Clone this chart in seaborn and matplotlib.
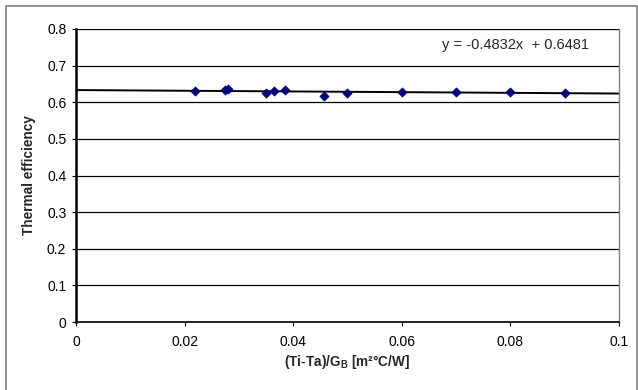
import numpy as np
import pandas as pd
import matplotlib
matplotlib.use("Agg")
import matplotlib.pyplot as plt
import seaborn as sns
from matplotlib.patches import Rectangle

# --- datos ---
x_vals = [0.022, 0.0275, 0.028, 0.035, 0.0365, 0.0385, 0.0457, 0.050, 0.060, 0.070, 0.080, 0.090]
eta_vals = [0.632, 0.633, 0.637, 0.624, 0.630, 0.634, 0.618, 0.626, 0.629, 0.628, 0.627, 0.626]
y_ticks = [0, 0.1, 0.2, 0.3, 0.4, 0.5, 0.6, 0.7, 0.8]
x_ticks = [0, 0.02, 0.04, 0.06, 0.08, 0.1]
x_tick_labels = ["0", "0.02", "0.04", "0.06", "0.08", "0.1"]
ecuacion = "y = -0.4832x  + 0.6481"

df = pd.DataFrame({"x": x_vals, "eta": eta_vals})

sns.set_style("white")
plt.rcParams["font.family"] = ["Liberation Sans", "DejaVu Sans"]
plt.rcParams["mathtext.fontset"] = "custom"
plt.rcParams["mathtext.bf"] = "Liberation Sans:bold"
plt.rcParams["mathtext.rm"] = "Liberation Sans:bold"

fig = plt.figure(figsize=(6.38, 3.9), dpi=100)
ax = fig.add_axes([76 / 638, 1 - 322 / 390, (619 - 76) / 638, (322 - 29) / 390])

# borde exterior del grafico (estilo Excel)
fig.patches.append(Rectangle((6 / 638, -0.02), 631 / 638, 1 - 6 / 390 + 0.02,
                             transform=fig.transFigure, fill=False,
                             edgecolor="#808080", linewidth=1.2, zorder=0))

ax.set_xlim(0, 0.1)
ax.set_ylim(0, 0.8)

# lineas de rejilla horizontales
for yt in y_ticks[1:]:
    ax.axhline(yt, color="black", linewidth=0.9, zorder=1)

# linea de tendencia
sns.regplot(data=df, x="x", y="eta", ax=ax, ci=None, truncate=False, scatter=False,
            line_kws={"color": "black", "linewidth": 1.4, "zorder": 2})
sns.scatterplot(data=df, x="x", y="eta", ax=ax, marker="D", color="#000080",
                s=22, edgecolor="#000080", linewidth=0.5, zorder=3)

ax.set_xlim(0, 0.1)
ax.set_ylim(0, 0.8)
ax.set_xticks(x_ticks)
ax.set_xticklabels(x_tick_labels)
ax.set_yticks(y_ticks)
ax.set_yticklabels(["0"] + [f"{v:.1f}" for v in y_ticks[1:]])
ax.tick_params(axis="both", labelsize=10, direction="out", length=3, width=0.8,
               colors="black", pad=4)
ax.tick_params(axis="x", bottom=True, pad=6)
ax.tick_params(axis="y", left=True)

ax.spines["top"].set_visible(False)
ax.spines["right"].set_color("#808080")
ax.spines["right"].set_linewidth(1.0)
ax.spines["left"].set_color("black")
ax.spines["left"].set_linewidth(1.8)
ax.spines["bottom"].set_color("black")
ax.spines["bottom"].set_linewidth(1.2)

ax.set_xlabel(r"(Ti-Ta)/G$_{\mathbf{B}}$ [m²°C/W]", fontsize=9.8,
              fontweight="bold", labelpad=3)
ax.set_ylabel("Thermal efficiency", fontsize=9.8, fontweight="bold", labelpad=8)

ax.text(0.0674, 0.757, ecuacion, fontsize=10.5, ha="left", va="center")

fig.savefig("out.png", dpi=100)
